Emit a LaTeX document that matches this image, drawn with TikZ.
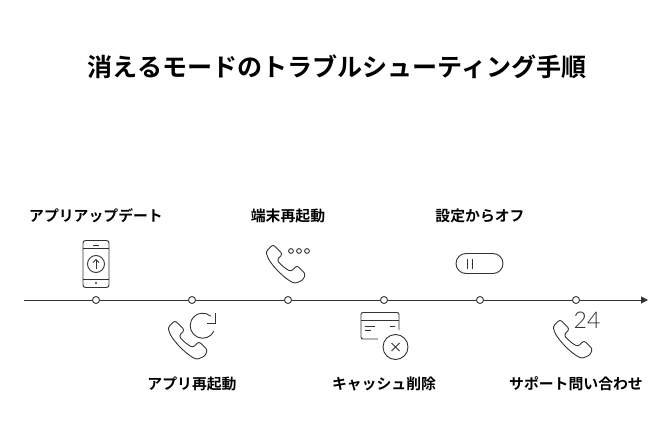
\documentclass[tikz,border=0pt]{standalone}
\usetikzlibrary{arrows.meta}
\usepackage{fontspec}
\setmainfont{Noto Sans CJK JP}[BoldFont={* Bold}]
\newfontfamily\thinfont{Lato Light}
\definecolor{iconline}{HTML}{333333}
\tikzset{
  stop/.style={draw=iconline,circle,fill=white,inner sep=0pt,minimum size=7pt,line width=0.9pt},
  label/.style={font=\bfseries\fontsize{14.85}{16}\selectfont,text=black,inner sep=0pt},
  icon/.style={draw=iconline,line width=0.9pt},
  handset/.pic={
    \draw[icon,rounded corners=2.4pt] (7,0.5) -- (16.5,10) -- (11,16) .. controls (15,21) and (20,25) .. (25,27.5) -- (31,21.5) -- (39.5,30) -- (37,36) -- (29,39.5) .. controls (19,35) and (7,23) .. (1.5,13) -- (0,7.5) -- cycle;
  }
}
\begin{document}
\begin{tikzpicture}[x=1pt,y=-1pt]
\useasboundingbox (0,0) rectangle (672,444);

\node[font=\bfseries\fontsize{25.05}{28}\selectfont,inner sep=0pt] (title) at (337,67) {消えるモードのトラブルシューティング手順};

\coordinate (start) at (24,300);
\coordinate (end) at (648,300);
\draw[draw=iconline,line width=1pt,-{Stealth[length=7pt,width=7pt,inset=0pt]}] (start) -- (end);

\node[stop] (s1) at (96,300) {};
\node[stop] (s2) at (192,300) {};
\node[stop] (s3) at (288,300) {};
\node[stop] (s4) at (384,300) {};
\node[stop] (s5) at (480,300) {};
\node[stop] (s6) at (576,300) {};

\node[label] (l1) at (96,216) {アプリアップデート};
\node[label] (l2) at (192,384) {アプリ再起動};
\node[label] (l3) at (288,216) {端末再起動};
\node[label] (l4) at (384,384) {キャッシュ削除};
\node[label] (l5) at (480,216) {設定からオフ};
\node[label] (l6) at (576,384) {サポート問い合わせ};

% phone with update
\draw[icon,rounded corners=2.5pt] (83,240.5) rectangle (109,287.5);
\draw[icon] (83,248) -- (109,248);
\draw[icon] (83,279) -- (109,279);
\draw[icon] (93,245) -- (99,245);
\fill[iconline] (96,283) circle (1.2);
\draw[icon] (96,264) circle (8.5);
\draw[icon] (96,269) -- (96,259.5);
\draw[icon] (93,262.5) -- (96,259.5) -- (99,262.5);

% restart
\pic at (168,320) {handset};
\draw[icon] (214,331) arc[start angle=25,end angle=310,radius=12.5];
\draw[icon] (215,312.5) -- (215,323.5) -- (206.5,323.5);

% dots
\pic at (266,244) {handset};
\draw[icon] (291,251) circle (2.4);
\draw[icon] (299,251) circle (2.4);
\draw[icon] (307,251) circle (2.4);

% card
\draw[icon,rounded corners=2pt] (378,339) -- (361,339) -- (361,312.5) -- (399,312.5) -- (399,330);
\draw[icon] (361,320.5) -- (399,320.5);
\draw[icon] (365,326.7) -- (375,326.7);
\draw[icon] (365,330.7) -- (371,330.7);
\draw[icon] (389.5,326.7) -- (395,326.7);
\draw[icon] (395.5,347) circle (12.5);
\draw[icon] (391.5,343) -- (399.5,351);
\draw[icon] (399.5,343) -- (391.5,351);

% pause
\draw[icon,rounded corners=10pt] (456,253.5) rectangle (503,273.5);
\draw[icon] (467.7,259) -- (467.7,268.5);
\draw[icon] (472.3,259) -- (472.3,268.5);

% support
\pic at (553,319) {handset};
\node[text=iconline,font=\thinfont\fontsize{23}{24}\selectfont,inner sep=0pt] (hours) at (587,320.5) {24};
\end{tikzpicture}
\end{document}
